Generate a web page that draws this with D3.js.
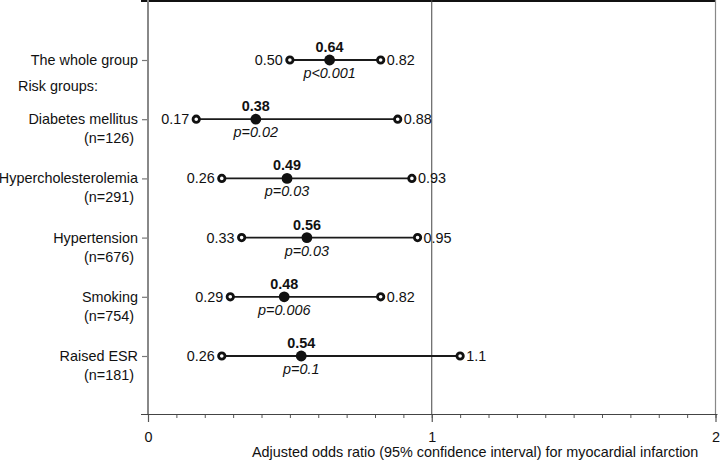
<!DOCTYPE html>
<html lang="en">
<head>
<meta charset="UTF-8">
<title>Adjusted odds ratio</title>
<script src="https://cdnjs.cloudflare.com/ajax/libs/d3/7.8.5/d3.min.js"></script>
<style>
    body { margin: 0; background: #fff; }
    text { font-family: "Liberation Sans", Arial, sans-serif; }
</style>
</head>
<body>
<div id="chart"></div>
<script>
    // data
    var groups = ["The whole group", "Diabetes mellitus", "Hypercholesterolemia", "Hypertension", "Smoking", "Raised ESR"];
    var counts = [null, 126, 291, 676, 754, 181];
    var oddsRatio = [0.64, 0.38, 0.49, 0.56, 0.48, 0.54];
    var lower = [0.50, 0.17, 0.26, 0.33, 0.29, 0.26];
    var upper = [0.82, 0.88, 0.93, 0.95, 0.82, 1.1];
    var pValues = ["p<0.001", "p=0.02", "p=0.03", "p=0.03", "p=0.006", "p=0.1"];
    var majorTicks = [0, 1, 2];
    var minorTicks = d3.range(0, 21).map(function(i) { return i / 10; });

    var width = 720, height = 460;
    var margin = {top: 1, right: 5, bottom: 46, left: 148};
    var fs = 14.4;

    var svg = d3.select("#chart").append("svg")
        .attr("width", width)
        .attr("height", height);

    var x = d3.scaleLinear()
        .domain([0, 2])
        .range([margin.left, width - margin.right + 0.5]);

    var y = d3.scaleLinear()
        .domain([0, groups.length - 1])
        .range([60, 356]);

    var bottom = height - margin.bottom;

    function fmt(v) { return v >= 1 ? String(v) : v.toFixed(2); }

    // frame
    svg.append("line")
        .attr("x1", 141).attr("x2", x(2))
        .attr("y1", 1).attr("y2", 1)
        .attr("stroke", "#111").attr("stroke-width", 2);
    svg.append("line")
        .attr("x1", x(2)).attr("x2", x(2))
        .attr("y1", 0).attr("y2", bottom)
        .attr("stroke", "#888").attr("stroke-width", 1.2);
    svg.append("line")
        .attr("x1", x(1)).attr("x2", x(1))
        .attr("y1", 0).attr("y2", bottom)
        .attr("stroke", "#444").attr("stroke-width", 1);

    // bottom axis: minor then major ticks
    var minorAxis = d3.axisBottom(x).tickValues(minorTicks).tickSize(4).tickFormat("");
    var majorAxis = d3.axisBottom(x).tickValues(majorTicks).tickSize(8).tickPadding(10)
        .tickFormat(d3.format("d"));

    var gMinor = svg.append("g").attr("transform", "translate(0," + bottom + ")").call(minorAxis);
    gMinor.select(".domain").remove();
    gMinor.selectAll("line").attr("stroke", "#555");

    var gMajor = svg.append("g").attr("transform", "translate(0," + bottom + ")").call(majorAxis);
    gMajor.select(".domain").remove();
    gMajor.selectAll("line").attr("stroke", "#555").attr("stroke-width", 1.2);
    gMajor.selectAll("text").attr("font-size", fs).attr("fill", "#111");

    svg.append("line")
        .attr("x1", 141).attr("x2", x(2) + 2)
        .attr("y1", bottom + 0.5).attr("y2", bottom + 0.5)
        .attr("stroke", "#444").attr("stroke-width", 1);

    // left axis
    var leftAxis = d3.axisLeft(y).tickValues(d3.range(groups.length)).tickSize(6).tickFormat("");
    var gLeft = svg.append("g").attr("transform", "translate(" + margin.left + ",0)").call(leftAxis);
    gLeft.select(".domain").remove();
    gLeft.selectAll("line").attr("stroke", "#777").attr("stroke-width", 1.2);
    svg.append("line")
        .attr("x1", margin.left).attr("x2", margin.left)
        .attr("y1", 0).attr("y2", bottom)
        .attr("stroke", "#888").attr("stroke-width", 2);

    // row labels
    var labels = svg.append("g").attr("font-size", fs).attr("fill", "#111");
    groups.forEach(function(g, i) {
        labels.append("text")
            .attr("x", 138).attr("y", y(i))
            .attr("dy", "0.35em")
            .attr("text-anchor", "end")
            .text(g);
        if (counts[i] != null) {
            labels.append("text")
                .attr("x", 134).attr("y", y(i) + 19)
                .attr("dy", "0.35em")
                .attr("text-anchor", "end")
                .text("(n=" + counts[i] + ")");
        }
    });
    labels.append("text")
        .attr("x", 18).attr("y", y(0) + 26)
        .attr("dy", "0.35em")
        .text("Risk groups:");

    // intervals
    var rows = svg.append("g").selectAll("g")
        .data(groups)
        .join("g");

    rows.append("line")
        .attr("x1", function(d, i) { return x(lower[i]); })
        .attr("x2", function(d, i) { return x(upper[i]); })
        .attr("y1", function(d, i) { return y(i); })
        .attr("y2", function(d, i) { return y(i); })
        .attr("stroke", "#1a1a1a").attr("stroke-width", 1.8);

    rows.append("circle")
        .attr("cx", function(d, i) { return x(lower[i]); })
        .attr("cy", function(d, i) { return y(i); })
        .attr("r", 3.2)
        .attr("fill", "#fff").attr("stroke", "#111").attr("stroke-width", 2.8);
    rows.append("circle")
        .attr("cx", function(d, i) { return x(upper[i]); })
        .attr("cy", function(d, i) { return y(i); })
        .attr("r", 3.2)
        .attr("fill", "#fff").attr("stroke", "#111").attr("stroke-width", 2.8);
    rows.append("circle")
        .attr("cx", function(d, i) { return x(oddsRatio[i]); })
        .attr("cy", function(d, i) { return y(i); })
        .attr("r", 5.4)
        .attr("fill", "#111");

    rows.append("text")
        .attr("x", function(d, i) { return x(lower[i]) - 7; })
        .attr("y", function(d, i) { return y(i); })
        .attr("dy", "0.35em").attr("text-anchor", "end")
        .attr("font-size", fs).attr("fill", "#111")
        .text(function(d, i) { return fmt(lower[i]); });
    rows.append("text")
        .attr("x", function(d, i) { return x(upper[i]) + 6; })
        .attr("y", function(d, i) { return y(i); })
        .attr("dy", "0.35em")
        .attr("font-size", fs).attr("fill", "#111")
        .text(function(d, i) { return fmt(upper[i]); });
    rows.append("text")
        .attr("x", function(d, i) { return x(oddsRatio[i]); })
        .attr("y", function(d, i) { return y(i) - 13; })
        .attr("dy", "0.35em").attr("text-anchor", "middle")
        .attr("font-size", fs).attr("font-weight", "bold").attr("fill", "#111")
        .text(function(d, i) { return fmt(oddsRatio[i]); });
    rows.append("text")
        .attr("x", function(d, i) { return x(oddsRatio[i]); })
        .attr("y", function(d, i) { return y(i) + 13; })
        .attr("dy", "0.35em").attr("text-anchor", "middle")
        .attr("font-size", fs).attr("font-style", "italic").attr("fill", "#111")
        .text(function(d, i) { return pValues[i]; });

    // axis title
    svg.append("text")
        .attr("x", 252).attr("y", 457)
        .attr("font-size", fs).attr("fill", "#111")
        .text("Adjusted odds ratio (95% confidence interval) for myocardial infarction");
</script>
</body>
</html>
